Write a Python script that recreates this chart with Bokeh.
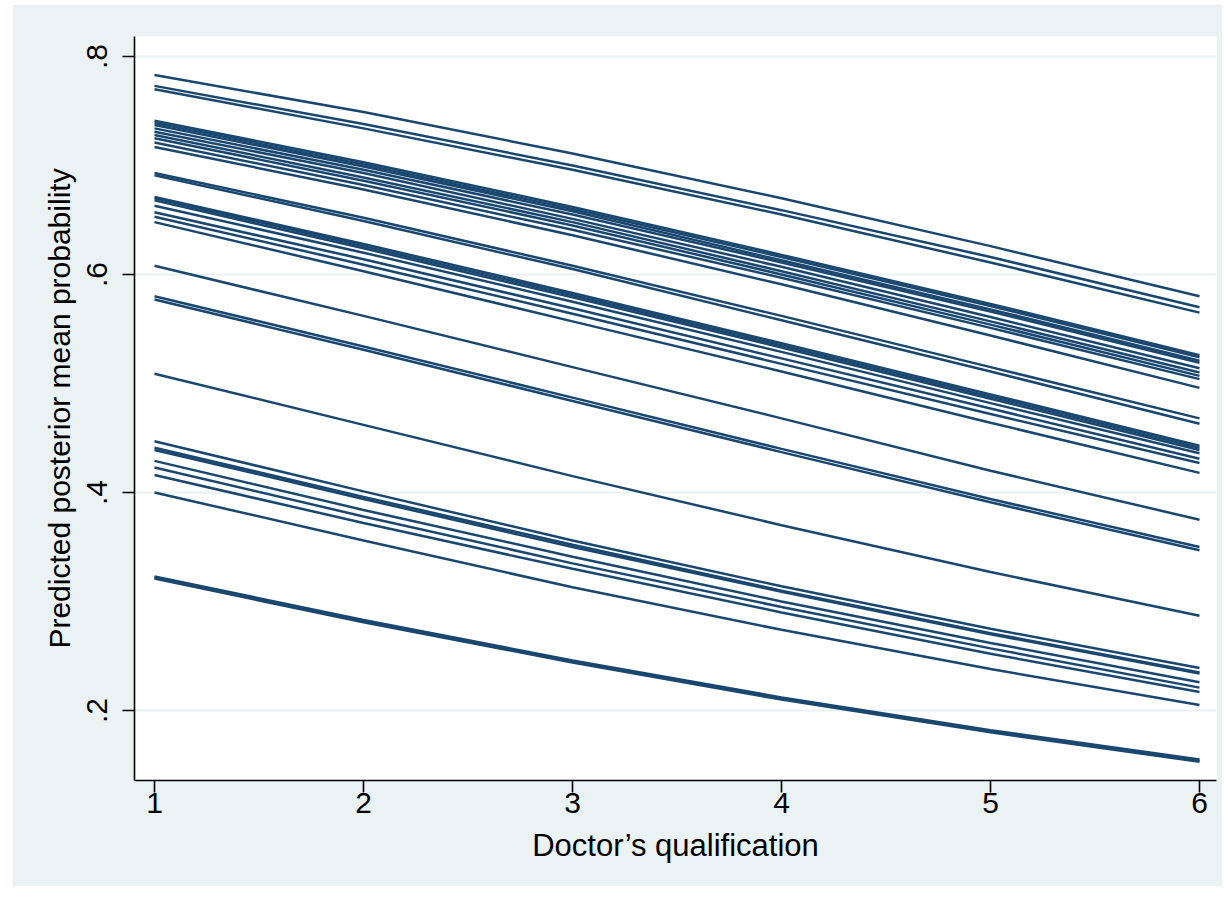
from bokeh.plotting import figure
from bokeh.models import ColumnDataSource, FixedTicker, Range1d
from bokeh.embed import file_html
from bokeh.resources import INLINE

qualification = [1, 2, 3, 4, 5, 6]

group_top = [
    [0.783, 0.749, 0.711, 0.670, 0.626, 0.580],
    [0.773, 0.738, 0.700, 0.659, 0.616, 0.570],
    [0.770, 0.734, 0.696, 0.655, 0.611, 0.565],
]
group_upper = [
    [0.741, 0.703, 0.662, 0.618, 0.573, 0.526],
    [0.739, 0.701, 0.660, 0.616, 0.571, 0.524],
    [0.737, 0.699, 0.658, 0.613, 0.568, 0.521],
    [0.734, 0.696, 0.655, 0.611, 0.566, 0.519],
    [0.731, 0.693, 0.651, 0.607, 0.561, 0.514],
    [0.728, 0.689, 0.648, 0.603, 0.557, 0.510],
    [0.725, 0.686, 0.645, 0.600, 0.554, 0.507],
    [0.721, 0.682, 0.641, 0.597, 0.551, 0.504],
    [0.717, 0.678, 0.636, 0.591, 0.544, 0.496],
]
group_middle = [
    [0.693, 0.652, 0.608, 0.562, 0.515, 0.468],
    [0.691, 0.649, 0.605, 0.558, 0.511, 0.463],
    [0.671, 0.628, 0.583, 0.537, 0.490, 0.443],
    [0.670, 0.626, 0.581, 0.535, 0.488, 0.441],
    [0.668, 0.624, 0.579, 0.533, 0.486, 0.439],
    [0.663, 0.620, 0.575, 0.529, 0.482, 0.436],
    [0.657, 0.614, 0.569, 0.523, 0.477, 0.431],
    [0.653, 0.609, 0.564, 0.518, 0.472, 0.427],
    [0.648, 0.603, 0.557, 0.511, 0.464, 0.418],
]
group_lower = [
    [0.608, 0.562, 0.515, 0.468, 0.420, 0.375],
    [0.580, 0.534, 0.487, 0.440, 0.394, 0.350],
    [0.577, 0.531, 0.484, 0.437, 0.391, 0.347],
    [0.509, 0.462, 0.415, 0.370, 0.327, 0.287],
]
group_low = [
    [0.447, 0.401, 0.356, 0.314, 0.275, 0.239],
    [0.441, 0.396, 0.352, 0.310, 0.271, 0.235],
    [0.439, 0.394, 0.350, 0.309, 0.270, 0.234],
    [0.429, 0.384, 0.341, 0.300, 0.262, 0.226],
    [0.423, 0.378, 0.335, 0.295, 0.257, 0.221],
    [0.416, 0.372, 0.330, 0.290, 0.252, 0.217],
    [0.400, 0.356, 0.313, 0.274, 0.238, 0.205],
]
group_bottom = [
    [0.323, 0.283, 0.246, 0.212, 0.182, 0.155],
    [0.322, 0.282, 0.245, 0.211, 0.181, 0.154],
    [0.321, 0.281, 0.244, 0.210, 0.180, 0.153],
]

y_ticks = [0.2, 0.4, 0.6, 0.8]
y_tick_labels = [".2", ".4", ".6", ".8"]
x_ticks = [1, 2, 3, 4, 5, 6]
x_title = "Doctor\u2019s qualification"
y_title = "Predicted posterior mean probability"

all_lines = group_top + group_upper + group_middle + group_lower + group_low + group_bottom
src = ColumnDataSource(dict(xs=[qualification] * len(all_lines), ys=all_lines))

BG = "#eaf2f3"
NAVY = "#1a476f"
FONT = "Liberation Sans"

W, H = 1210, 882
p = figure(width=W, height=H, output_backend="svg", toolbar_location=None,
           x_range=Range1d(0.9043, 6.0813), y_range=Range1d(0.1358, 0.8183),
           min_border_left=122, min_border_right=6,
           min_border_top=32, min_border_bottom=106)
p.margin = (4, 0, 0, 12)
p.border_fill_color = BG
p.background_fill_color = "white"
p.outline_line_color = None

p.multi_line(xs="xs", ys="ys", source=src, line_color=NAVY, line_width=2.5)

p.xaxis.ticker = FixedTicker(ticks=x_ticks)
p.yaxis.ticker = FixedTicker(ticks=y_ticks)
p.yaxis.major_label_overrides = {t: l for t, l in zip(y_ticks, y_tick_labels)}
p.yaxis.major_label_orientation = "vertical"

for ax in (p.xaxis, p.yaxis):
    ax.axis_line_color = "black"
    ax.axis_line_width = 1.6
    ax.major_tick_line_color = "black"
    ax.major_tick_line_width = 1.6
    ax.major_tick_out = 12
    ax.major_tick_in = 0
    ax.minor_tick_line_color = None
    ax.major_label_text_font = FONT
    ax.major_label_text_font_size = "30px"
    ax.major_label_text_color = "black"
    ax.axis_label_text_font = FONT
    ax.axis_label_text_font_style = "normal"
    ax.axis_label_text_color = "black"

p.xaxis.axis_label = x_title
p.yaxis.axis_label = y_title
p.xaxis.axis_label_text_font_size = "31px"
p.yaxis.axis_label_text_font_size = "30px"
p.xaxis.major_label_standoff = 0
p.yaxis.major_label_standoff = 15
p.xaxis.axis_label_standoff = 12
p.yaxis.axis_label_standoff = 9

p.xgrid.grid_line_color = None
p.ygrid.grid_line_color = BG
p.ygrid.grid_line_width = 2

open("out.html", "w").write(file_html(p, INLINE))
